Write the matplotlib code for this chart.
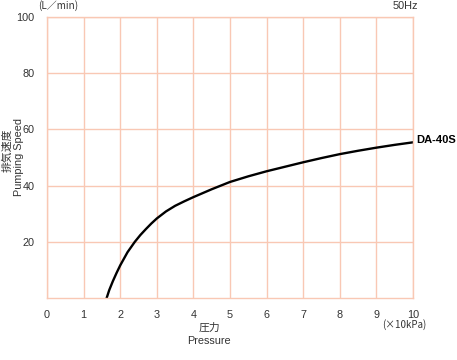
import matplotlib
matplotlib.use("Agg")
import matplotlib.pyplot as plt

pressure = [1.63, 1.7, 1.8, 1.9, 2.0, 2.2, 2.4, 2.55, 2.7, 2.85, 3.0, 3.25, 3.5, 3.75, 4.0,
            4.5, 5.0, 5.5, 6.0, 6.5, 7.0, 7.5, 8.0, 8.5, 9.0, 9.5, 10.0]
speed = [0.0, 2.8, 6.0, 8.9, 11.6, 16.3, 20.0, 22.4, 24.5, 26.5, 28.3, 30.8, 32.8, 34.4, 35.9,
         38.7, 41.3, 43.3, 45.1, 46.7, 48.3, 49.8, 51.2, 52.4, 53.5, 54.5, 55.4]
x_ticks = list(range(0, 11))
y_ticks = [20, 40, 60, 80, 100]
model = "DA-40S"

grid_c = "#f9c8b4"
txt_c = "#333333"
font = ["Liberation Sans", "Noto Sans CJK JP"]
jp = ["Noto Sans CJK JP", "Liberation Sans"]

fig = plt.figure(figsize=(4.57, 3.60), dpi=100)
ax = fig.add_axes([47/457, 1 - 298/360, 366/457, 281/360])
ax.set_xlim(0, 10)
ax.set_ylim(0, 100)
ax.set_xticks(x_ticks)
ax.set_yticks(y_ticks)
ax.grid(True, color=grid_c, linewidth=1.0)
for s in ax.spines.values():
    s.set_color(grid_c)
    s.set_linewidth(1.0)
ax.tick_params(length=0, pad=9, labelsize=7.8, labelcolor=txt_c)
for lab in ax.get_xticklabels() + ax.get_yticklabels():
    lab.set_fontfamily(font)
ax.plot(pressure, speed, color="black", linewidth=1.7, solid_joinstyle="round")

ax.text(10.08, speed[-1] + 0.8, model, fontsize=8, fontweight="bold",
        family=["Liberation Sans", "DejaVu Sans"],
        ha="left", va="center", color="black")
fig.text(58/457, 1 - 6/360, "(L／min)", fontsize=7.2, family=jp, ha="center", va="center", color=txt_c)
fig.text(405/457, 1 - 6/360, "50Hz", fontsize=7.8, family=font, ha="center", va="center", color=txt_c)
fig.text(404/457, 1 - 325/360, "(×10kPa)", fontsize=7.0, family=jp, ha="center", va="center", color=txt_c)
fig.text(209/457, 1 - 328/360, "圧力", fontsize=7.8, family=jp, ha="center", va="center", color=txt_c)
fig.text(209/457, 1 - 341/360, "Pressure", fontsize=7.8, family=font, ha="center", va="center", color=txt_c)
fig.text(7/457, 1 - 150/360, "排気速度", fontsize=7.8, family=jp, rotation=90, ha="center", va="center", color=txt_c)
fig.text(19/457, 1 - 157/360, "Pumping Speed", fontsize=7.8, family=font, rotation=90, ha="center", va="center", color=txt_c)

fig.savefig("out.png", dpi=100)
